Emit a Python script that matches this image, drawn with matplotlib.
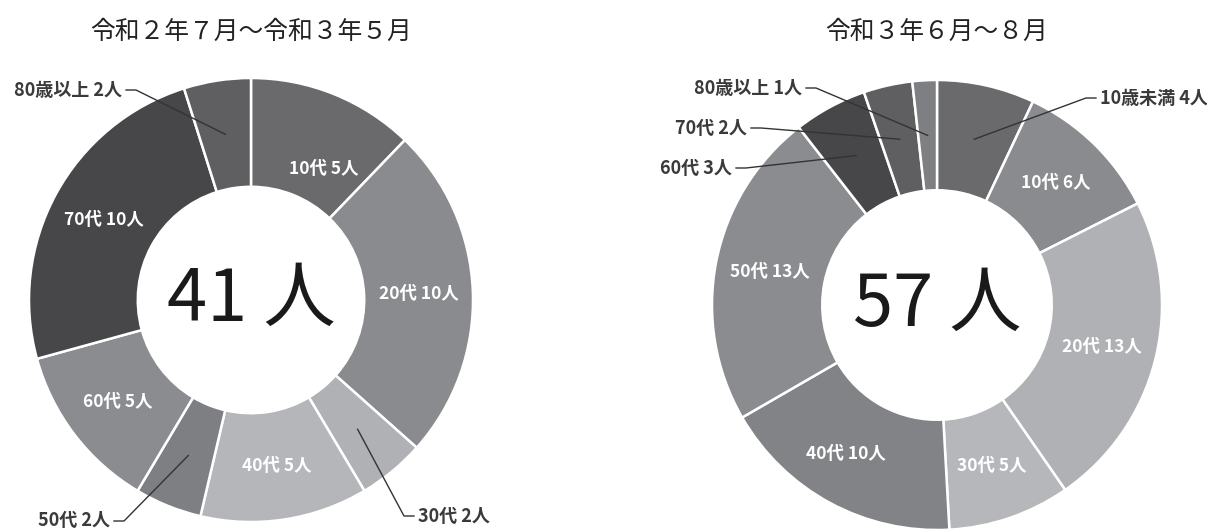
import numpy as np
import matplotlib
matplotlib.use("Agg")
import matplotlib.pyplot as plt

plt.rcParams['font.family'] = ['Noto Sans CJK JP', 'DejaVu Sans']

# left chart
titleL = "令和２年７月〜令和３年５月"
labelsL = ["10代", "20代", "30代", "40代", "50代", "60代", "70代", "80歳以上"]
valuesL = [5, 10, 2, 5, 2, 5, 10, 2]
colorsL = ["#6a6a6c", "#8a8b8e", "#b0b1b4", "#b5b6b9", "#7e7f82", "#8b8c8f", "#474749", "#5f5f61"]

# right chart
titleR = "令和３年６月〜８月"
labelsR = ["10歳未満", "10代", "20代", "30代", "40代", "50代", "60代", "70代", "80歳以上"]
valuesR = [4, 6, 13, 5, 10, 13, 3, 2, 1]
colorsR = ["#6a6a6c", "#8a8b8e", "#b0b1b4", "#b6b7ba", "#828386", "#8b8c8f", "#47474a", "#5f5f61", "#7e7f82"]

W, H = 1207, 531
fig = plt.figure(figsize=(W / 100, H / 100), dpi=100)
ax = fig.add_axes([0, 0, 1, 1])


def donut(cx, cy, r, values, labels, colors, title, outside, nudge={}):
    # cy in pixel coords from top
    cyd = H - cy
    wedges, _ = ax.pie(values, colors=colors, startangle=90, counterclock=False,
                       radius=r, center=(cx, cyd),
                       wedgeprops=dict(width=r * 0.49, edgecolor="white", linewidth=1.8))
    total = sum(values)
    rm = r * 0.755
    for w, lab, v in zip(wedges, labels, values):
        ang = np.deg2rad((w.theta1 + w.theta2) / 2)
        px = cx + rm * np.cos(ang)
        py = cyd + rm * np.sin(ang)
        txt = f"{lab} {v}人"
        if lab in outside:
            tx, ty, ha = outside[lab]
            ty = H - ty
            sgn = -1 if ha == "left" else 1
            ax.plot([px, tx + sgn * 14, tx + sgn * 4], [py, ty, ty],
                    color="#333333", lw=1.0)
            ax.text(tx, ty, txt, ha=ha, va="center", fontsize=13,
                    fontweight="bold", color="#3a3a3a")
        else:
            dx, dy = nudge.get(lab, (0, 0))
            ax.text(px + dx, py - dy, txt, ha="center", va="center", fontsize=12.5,
                    fontweight="bold", color="white")
    ax.text(cx, cyd, f"{total} 人", ha="center", va="center", fontsize=52,
            color="#1a1a1a")
    ax.text(cx, H - 32, title, ha="center", va="center", fontsize=17.8,
            color="#222222")


donut(251, 300, 222, valuesL, labelsL, colorsL, titleL,
      {"80歳以上": (122, 90, "right"),
       "50代": (110, 521, "right"),
       "30代": (418, 516, "left")},
      nudge={"10代": (10, 24)})
donut(937, 305, 225, valuesR, labelsR, colorsR, titleR,
      {"10歳未満": (1100, 98, "left"),
       "80歳以上": (802, 88, "right"),
       "70代": (747, 128, "right"),
       "60代": (732, 168, "right")},
      nudge={"40代": (-10, 0)})

ax.set_xlim(0, W)
ax.set_ylim(0, H)
ax.set_aspect("auto")
ax.axis("off")
fig.savefig("out.png", dpi=100)
